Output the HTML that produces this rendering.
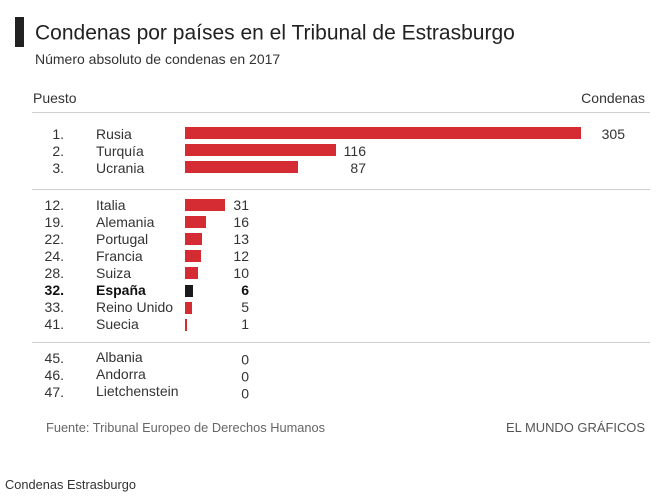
<!DOCTYPE html>
<html>
<head>
<meta charset="utf-8">
<style>
html,body{margin:0;padding:0;background:#fff;}
svg{display:block;}
text{font-family:"Liberation Sans",Arial,sans-serif;}
</style>
</head>
<body>
<svg width="662" height="496" viewBox="0 0 662 496" xmlns="http://www.w3.org/2000/svg">
  <rect x="0" y="0" width="662" height="496" fill="#fff"/>
  <!-- title -->
  <rect x="15" y="17" width="9" height="30" fill="#222"/>
  <text x="35" y="39.5" font-size="21" fill="#222">Condenas por países en el Tribunal de Estrasburgo</text>
  <text x="35" y="64" font-size="14" fill="#333">Número absoluto de condenas en 2017</text>

  <!-- header -->
  <text x="33" y="103" font-size="14" fill="#333">Puesto</text>
  <text x="645" y="103" font-size="14" fill="#333" text-anchor="end">Condenas</text>
  <rect x="32" y="112" width="618" height="1" fill="#cfcfcf"/>

  <!-- group 1 -->
  <g font-size="14" fill="#333">
    <text x="64" y="139" text-anchor="end">1.</text>
    <text x="96" y="139">Rusia</text>
    <rect x="185" y="127" width="396" height="12" fill="#d52b32"/>
    <text x="625" y="139" text-anchor="end">305</text>

    <text x="64" y="156" text-anchor="end">2.</text>
    <text x="96" y="156">Turquía</text>
    <rect x="185" y="144" width="151" height="12" fill="#d52b32"/>
    <text x="366" y="156" text-anchor="end">116</text>

    <text x="64" y="173" text-anchor="end">3.</text>
    <text x="96" y="173">Ucrania</text>
    <rect x="185" y="161" width="113" height="12" fill="#d52b32"/>
    <text x="366" y="173" text-anchor="end">87</text>
  </g>
  <rect x="32" y="189" width="618" height="1" fill="#cfcfcf"/>

  <!-- group 2 -->
  <g font-size="14" fill="#333">
    <text x="64" y="210" text-anchor="end">12.</text>
    <text x="96" y="210">Italia</text>
    <rect x="185" y="199" width="40" height="12" fill="#d52b32"/>
    <text x="249" y="210" text-anchor="end">31</text>

    <text x="64" y="227" text-anchor="end">19.</text>
    <text x="96" y="227">Alemania</text>
    <rect x="185" y="216" width="21" height="12" fill="#d52b32"/>
    <text x="249" y="227" text-anchor="end">16</text>

    <text x="64" y="244" text-anchor="end">22.</text>
    <text x="96" y="244">Portugal</text>
    <rect x="185" y="233" width="17" height="12" fill="#d52b32"/>
    <text x="249" y="244" text-anchor="end">13</text>

    <text x="64" y="261" text-anchor="end">24.</text>
    <text x="96" y="261">Francia</text>
    <rect x="185" y="250" width="16" height="12" fill="#d52b32"/>
    <text x="249" y="261" text-anchor="end">12</text>

    <text x="64" y="278" text-anchor="end">28.</text>
    <text x="96" y="278">Suiza</text>
    <rect x="185" y="267" width="13" height="12" fill="#d52b32"/>
    <text x="249" y="278" text-anchor="end">10</text>

    <text x="64" y="295" text-anchor="end" font-weight="bold" fill="#111">32.</text>
    <text x="96" y="295" font-weight="bold" fill="#111">España</text>
    <rect x="185" y="285" width="8" height="12" fill="#1a1a1e"/>
    <text x="249" y="295" text-anchor="end" font-weight="bold" fill="#111">6</text>

    <text x="64" y="312" text-anchor="end">33.</text>
    <text x="96" y="312">Reino Unido</text>
    <rect x="185" y="302" width="7" height="12" fill="#d52b32"/>
    <text x="249" y="312" text-anchor="end">5</text>

    <text x="64" y="329" text-anchor="end">41.</text>
    <text x="96" y="329">Suecia</text>
    <rect x="185" y="319" width="2" height="12" fill="#d52b32"/>
    <text x="249" y="329" text-anchor="end">1</text>
  </g>
  <rect x="32" y="342" width="618" height="1" fill="#cfcfcf"/>

  <!-- group 3 -->
  <g font-size="14" fill="#333">
    <text x="64" y="363" text-anchor="end">45.</text>
    <text x="96" y="362">Albania</text>
    <text x="249" y="364.5" text-anchor="end">0</text>

    <text x="64" y="380" text-anchor="end">46.</text>
    <text x="96" y="379">Andorra</text>
    <text x="249" y="381.5" text-anchor="end">0</text>

    <text x="64" y="397" text-anchor="end">47.</text>
    <text x="96" y="396">Lietchenstein</text>
    <text x="249" y="398.5" text-anchor="end">0</text>
  </g>

  <!-- footer -->
  <text x="46" y="432" font-size="13" fill="#666" textLength="279" lengthAdjust="spacingAndGlyphs">Fuente: Tribunal Europeo de Derechos Humanos</text>
  <text x="506" y="432" font-size="13" fill="#555" textLength="139" lengthAdjust="spacingAndGlyphs">EL MUNDO GRÁFICOS</text>

  <text x="5" y="489" font-size="13" fill="#333" textLength="131" lengthAdjust="spacingAndGlyphs">Condenas Estrasburgo</text>
</svg>
</body>
</html>
